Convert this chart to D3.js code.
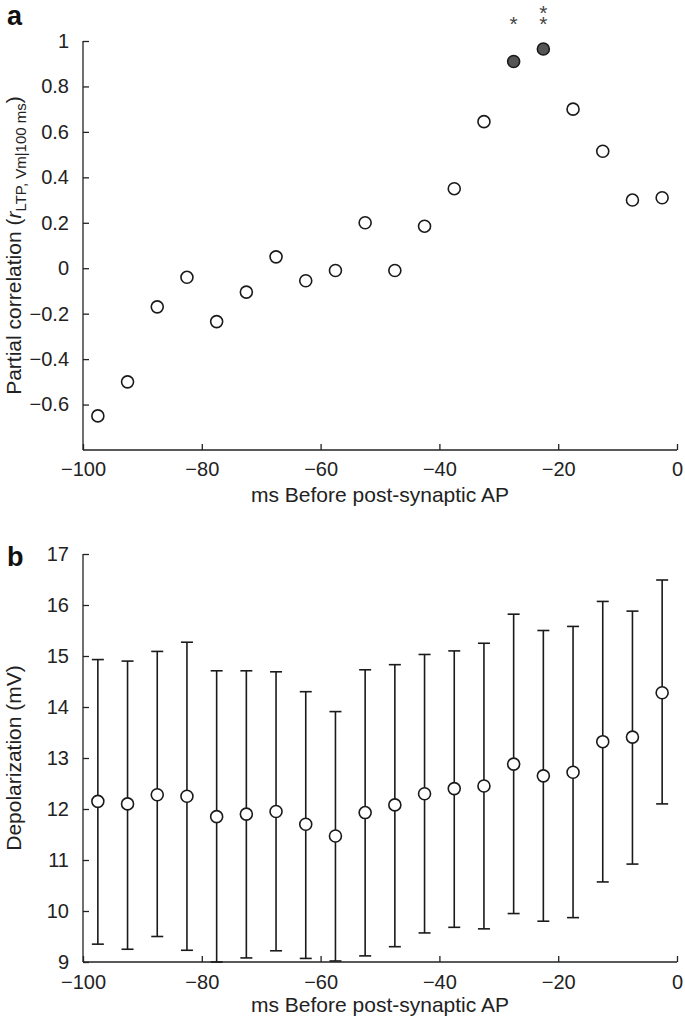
<!DOCTYPE html>
<html>
<head>
<meta charset="utf-8">
<script src="https://cdn.jsdelivr.net/npm/d3@7"></script>
<style>
  body { margin: 0; background: #fff; }
  svg { display: block; font-family: "Liberation Sans", Arial, sans-serif; }
  .axis path, .axis line { stroke: #222; stroke-width: 1.3; }
  .axis text { font-size: 20px; fill: #222; }
</style>
</head>
<body>
<div id="chart"></div>
<script>
// time bins (ms before post-synaptic AP), bin centres
const binCentres = [-97.5, -92.5, -87.5, -82.5, -77.5, -72.5, -67.5, -62.5, -57.5, -52.5,
                    -47.5, -42.5, -37.5, -32.5, -27.5, -22.5, -17.5, -12.5, -7.5, -2.5];

// panel a: partial correlation per bin
const partialCorr = [-0.65, -0.50, -0.17, -0.04, -0.235, -0.105, 0.05, -0.055, -0.01, 0.20,
                     -0.01, 0.185, 0.35, 0.645, 0.91, 0.965, 0.70, 0.515, 0.30, 0.31];
// significance stars per bin ('' = none)
const sigStars = ['', '', '', '', '', '', '', '', '', '',
                  '', '', '', '', '*', '**', '', '', '', ''];

// panel b: depolarization mean and error bar ends (mV)
const depolMean = [12.15, 12.10, 12.28, 12.25, 11.85, 11.90, 11.95, 11.70, 11.47, 11.93,
                   12.08, 12.30, 12.40, 12.45, 12.88, 12.65, 12.72, 13.32, 13.41, 14.28];
const depolUpper = [14.93, 14.90, 15.09, 15.27, 14.71, 14.71, 14.69, 14.30, 13.91, 14.73,
                    14.83, 15.03, 15.10, 15.25, 15.82, 15.50, 15.58, 16.07, 15.88, 16.49];
const depolLower = [9.35, 9.25, 9.50, 9.23, 9.00, 9.08, 9.22, 9.07, 9.02, 9.12,
                    9.30, 9.57, 9.68, 9.65, 9.95, 9.80, 9.87, 10.57, 10.92, 12.10];

const xTicks = [-100, -80, -60, -40, -20, 0];
const corrTicks = [-0.6, -0.4, -0.2, 0, 0.2, 0.4, 0.6, 0.8, 1];
const depolTicks = [9, 10, 11, 12, 13, 14, 15, 16, 17];

const W = 685, H = 1022;
const svg = d3.select('#chart').append('svg').attr('width', W).attr('height', H);

const x = d3.scaleLinear().domain([-100, 0]).range([83, 677]);
const yA = d3.scaleLinear().domain([-0.8, 1]).range([450, 41]);
const yB = d3.scaleLinear().domain([9, 17]).range([962, 554]);

const fmt = d3.format('~g');

function drawAxes(y, yTicks, axisY, labelGap, xLabelY) {
  svg.append('g')
    .attr('class', 'axis')
    .attr('transform', `translate(0,${axisY})`)
    .call(d3.axisBottom(x).tickValues(xTicks).tickFormat(fmt)
      .tickSizeInner(-6).tickSizeOuter(0).tickPadding(labelGap))
    .call((g) => g.select('.domain').attr('d', `M${x(-100)},0H${x(0)}`));

  svg.append('g')
    .attr('class', 'axis')
    .attr('transform', `translate(${x(-100)},0)`)
    .call(d3.axisLeft(y).tickValues(yTicks).tickFormat(fmt)
      .tickSizeInner(-6).tickSizeOuter(0).tickPadding(14))
    .call((g) => g.select('.domain').attr('d', `M0,${y.range()[1]}V${y.range()[0]}`));

  svg.append('text')
    .attr('x', (x(-100) + x(0)) / 2)
    .attr('y', xLabelY)
    .attr('text-anchor', 'middle')
    .style('font-size', '21px')
    .style('fill', '#222')
    .text('ms Before post-synaptic AP');
}

// ---------- panel a ----------
drawAxes(yA, corrTicks, yA(-0.8), 12, 502);

const labA = svg.append('text')
  .attr('transform', `translate(21,${(yA(-0.8) + yA(1)) / 2}) rotate(-90)`)
  .attr('text-anchor', 'middle')
  .style('font-size', '21px')
  .style('fill', '#222');
labA.append('tspan').text('Partial correlation (');
labA.append('tspan').style('font-style', 'italic').text('r');
labA.append('tspan').attr('dy', 5).style('font-size', '15px').text('LTP, Vm|100 ms');
labA.append('tspan').attr('dy', -5).text(')');

svg.selectAll('circle.corr')
  .data(binCentres)
  .join('circle')
  .attr('class', 'corr')
  .attr('cx', (d) => x(d))
  .attr('cy', (d, i) => yA(partialCorr[i]))
  .attr('r', 6)
  .style('fill', (d, i) => (sigStars[i] ? '#555' : '#fff'))
  .style('stroke', '#1a1a1a')
  .style('stroke-width', 1.6);

// stars stacked above significant points (one text per bin)
binCentres.forEach((d, i) => {
  if (!sigStars[i]) return;
  const t = svg.append('text')
    .attr('text-anchor', 'middle')
    .style('font-size', '21px')
    .style('fill', '#444');
  sigStars[i].split('').forEach((s, k) => {
    t.append('tspan').attr('x', x(d)).attr('y', 31 - k * 11).text(s);
  });
});

svg.append('text')
  .attr('x', 7).attr('y', 25)
  .style('font-size', '27px').style('font-weight', 'bold').style('fill', '#111')
  .text('a');

// ---------- panel b ----------
drawAxes(yB, depolTicks, yB(9), 13, 1012);

svg.append('text')
  .attr('transform', `translate(21,${(yB(9) + yB(17)) / 2}) rotate(-90)`)
  .attr('text-anchor', 'middle')
  .style('font-size', '21px')
  .style('fill', '#222')
  .text('Depolarization (mV)');

const bars = svg.selectAll('g.err')
  .data(binCentres)
  .join('g')
  .attr('class', 'err')
  .style('stroke', '#1a1a1a')
  .style('stroke-width', 1.6);

bars.append('line')
  .attr('x1', (d) => x(d)).attr('x2', (d) => x(d))
  .attr('y1', (d, i) => yB(depolLower[i])).attr('y2', (d, i) => yB(depolUpper[i]));
bars.append('line')
  .attr('x1', (d) => x(d) - 6).attr('x2', (d) => x(d) + 6)
  .attr('y1', (d, i) => yB(depolUpper[i])).attr('y2', (d, i) => yB(depolUpper[i]));
bars.append('line')
  .attr('x1', (d) => x(d) - 6).attr('x2', (d) => x(d) + 6)
  .attr('y1', (d, i) => yB(depolLower[i])).attr('y2', (d, i) => yB(depolLower[i]));
bars.append('circle')
  .attr('cx', (d) => x(d))
  .attr('cy', (d, i) => yB(depolMean[i]))
  .attr('r', 6)
  .style('fill', '#fff');

svg.append('text')
  .attr('x', 7).attr('y', 566)
  .style('font-size', '27px').style('font-weight', 'bold').style('fill', '#111')
  .text('b');
</script>
</body>
</html>
